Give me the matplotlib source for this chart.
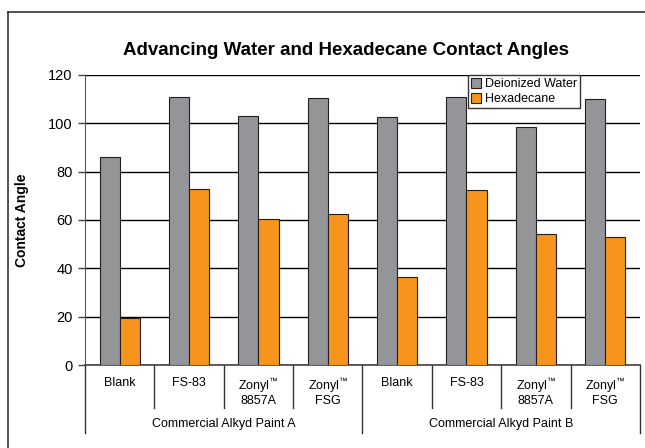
"""
Advancing water / hexadecane contact angles
"""

import numpy as np
import matplotlib.pyplot as plt
from matplotlib.lines import Line2D

plt.rcParams['font.family'] = ['Liberation Sans', 'DejaVu Sans']
plt.rcParams['mathtext.fontset'] = 'custom'
plt.rcParams['mathtext.rm'] = 'Liberation Sans'

tm = '$^{\\mathrm{\u2122}}$'
categories = ['Blank', 'FS-83', 'Zonyl' + tm + '\n8857A', 'Zonyl' + tm + '\nFSG',
              'Blank', 'FS-83', 'Zonyl' + tm + '\n8857A', 'Zonyl' + tm + '\nFSG']
groups = ['Commercial Alkyd Paint A', 'Commercial Alkyd Paint B']
water = [86, 111, 103, 110.5, 102.5, 111, 98.5, 110]
hexadecane = [19.5, 73, 60.5, 62.5, 36.5, 72.5, 54, 53]

gray = '#939598'
orange = '#f7941d'

fig = plt.figure(figsize=(6.45, 4.48), dpi=100)
ax = fig.add_axes([0.132, 0.185, 0.86, 0.648])

x = np.arange(len(categories))
w = 0.29
ax.bar(x - w / 2, water, w, color=gray, edgecolor='#231f20', linewidth=0.8,
       label='Deionized Water', zorder=3)
ax.bar(x + w / 2, hexadecane, w, color=orange, edgecolor='#231f20', linewidth=0.8,
       label='Hexadecane', zorder=3)

ax.set_xlim(-0.5, len(categories) - 0.5)
ax.set_ylim(0, 120)
ax.set_yticks(np.arange(0, 121, 20))
ax.yaxis.grid(True, color='black', linewidth=1.0, zorder=0)
ax.set_axisbelow(True)
ax.set_xticks([])
ax.tick_params(axis='y', labelsize=10.5, length=5, width=1, color='#444444', pad=4)
for s in ['top', 'right']:
    ax.spines[s].set_visible(False)
ax.spines['left'].set_color('#555555')
ax.spines['bottom'].set_color('#444444')
ax.spines['bottom'].set_linewidth(1.2)

ax.set_ylabel('Contact Angle', fontsize=10, fontweight='bold', labelpad=14)
ax.set_title('Advancing Water and Hexadecane Contact Angles', fontsize=13.5,
             fontweight='bold', pad=14, x=0.47)

# category labels and separator lines below the axis
trans = ax.get_xaxis_transform()
for i, lab in enumerate(categories):
    ax.text(x[i], -0.04, lab, transform=trans, ha='center', va='top',
            fontsize=9, linespacing=1.05)
for i in range(len(categories) + 1):
    b = i - 0.5
    long_ = i in (0, 4, 8)
    ax.add_line(Line2D([b, b], [0, -0.234 if long_ else -0.148], transform=trans,
                       color='#333333', linewidth=1, clip_on=False))
for gi, g in enumerate(groups):
    ax.text(gi * 4 + 1.5, -0.183, g, transform=trans, ha='center', va='top',
            fontsize=9)

ax.legend(loc='upper right', bbox_to_anchor=(0.892, 1.0), fontsize=9,
          frameon=True, fancybox=False, edgecolor='#333333', framealpha=1,
          handlelength=0.8, handleheight=0.8, handletextpad=0.3,
          borderpad=0.25, labelspacing=0.25, borderaxespad=0)

# outer frame lines (top and left)
fig.add_artist(Line2D([8 / 645, 8 / 645], [0, 1 - 12 / 448], transform=fig.transFigure,
                      color='#333333', linewidth=1.2))
fig.add_artist(Line2D([8 / 645, 1], [1 - 12 / 448, 1 - 12 / 448], transform=fig.transFigure,
                      color='#333333', linewidth=1.2))

fig.savefig('out.png', dpi=100)
